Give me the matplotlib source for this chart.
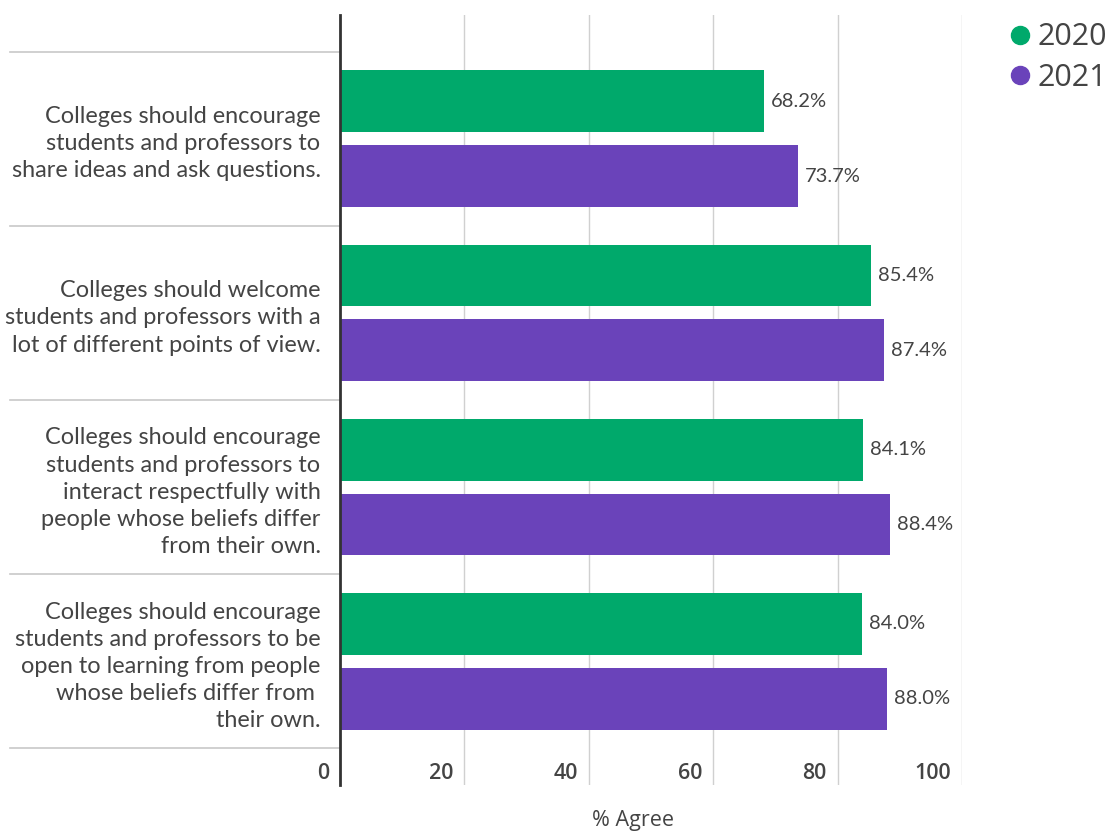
import matplotlib.pyplot as plt
import matplotlib.transforms as mtransforms
from matplotlib.lines import Line2D
import numpy as np

# data
categories = [
    "Colleges should encourage\nstudents and professors to\nshare ideas and ask questions.",
    "Colleges should welcome\nstudents and professors with a\nlot of different points of view.",
    "Colleges should encourage\nstudents and professors to\ninteract respectfully with\npeople whose beliefs differ\nfrom their own.",
    "Colleges should encourage\nstudents and professors to be\nopen to learning from people\nwhose beliefs differ from \ntheir own.",
]
vals_2020 = [68.2, 85.4, 84.1, 84.0]
vals_2021 = [73.7, 87.4, 88.4, 88.0]
series = ['2020', '2021']
xticks = [0, 20, 40, 60, 80, 100]

green = '#00A96B'
purple = '#6A43BA'
txt = '#444444'

plt.rcParams['font.family'] = ['Lato', 'DejaVu Sans']

fig = plt.figure(figsize=(11.10, 8.32), dpi=100)
ax = fig.add_axes([340/1110, 47/832, 622/1110, 770/832])

y = np.arange(len(categories))
h = 0.355
off = 0.215
ax.barh(y - off, vals_2020, height=h, color=green, zorder=3)
ax.barh(y + off, vals_2021, height=h, color=purple, zorder=3)

for yi, v in zip(y, vals_2020):
    ax.annotate(f'{v:.1f}%', (v, yi - off), xytext=(5, 0), textcoords='offset points',
                va='center', ha='left', fontsize=14.5, color=txt, zorder=4)
for yi, v in zip(y, vals_2021):
    ax.annotate(f'{v:.1f}%', (v, yi + off), xytext=(5, 0), textcoords='offset points',
                va='center', ha='left', fontsize=14.5, color=txt, zorder=4)

ax.set_xlim(0, 100)
ax.set_ylim(len(categories) - 1 + 0.71, -0.71)

# gridlines
for t in xticks[1:]:
    ax.axvline(t, color='#d0d0d0', lw=1, zorder=1)

# separators between categories, extending left of the axis
sep_trans = mtransforms.blended_transform_factory(ax.transAxes, ax.transData)
for b in np.arange(len(categories) + 1) - 0.5:
    ax.plot([-0.5305, 0], [b, b], color='#c8c8c8', lw=1.2, transform=sep_trans,
            clip_on=False, zorder=1)

for s in ['top', 'right', 'bottom']:
    ax.spines[s].set_visible(False)
ax.spines['left'].set_color('#333333')
ax.spines['left'].set_linewidth(2)
ax.spines['left'].set_zorder(5)

ax.set_yticks(y)
ax.set_yticklabels(categories, fontsize=16.9, color=txt, linespacing=1.36)
ax.tick_params(axis='y', length=0, pad=14)

ax.set_xticks(xticks)
ax.set_xticklabels([str(t) for t in xticks], fontsize=15.5, color=txt,
                   family=['Open Sans', 'DejaVu Sans'], fontweight='semibold', ha='right')
ax.tick_params(axis='x', length=0, pad=-16)
shift = mtransforms.ScaledTranslation(-11/100, 0, fig.dpi_scale_trans)
for lab in ax.get_xticklabels():
    lab.set_transform(lab.get_transform() + shift)

ax.set_xlabel('% Agree', fontsize=15.5, color=txt, family=['Open Sans', 'DejaVu Sans'])
ax.xaxis.set_label_coords(0.471, -0.033)

handles = [Line2D([], [], marker='o', ls='', color=green, markersize=13),
           Line2D([], [], marker='o', ls='', color=purple, markersize=13)]
leg = fig.legend(handles, series, loc='upper left', bbox_to_anchor=(989/1110, 1 - 10/832),
                 frameon=False, fontsize=22, handletextpad=0.0, labelspacing=0.35,
                 handlelength=1.2, borderaxespad=0)
for t in leg.get_texts():
    t.set_color(txt)
    t.set_family(['Open Sans', 'DejaVu Sans'])

fig.savefig('out.png', dpi=100)
